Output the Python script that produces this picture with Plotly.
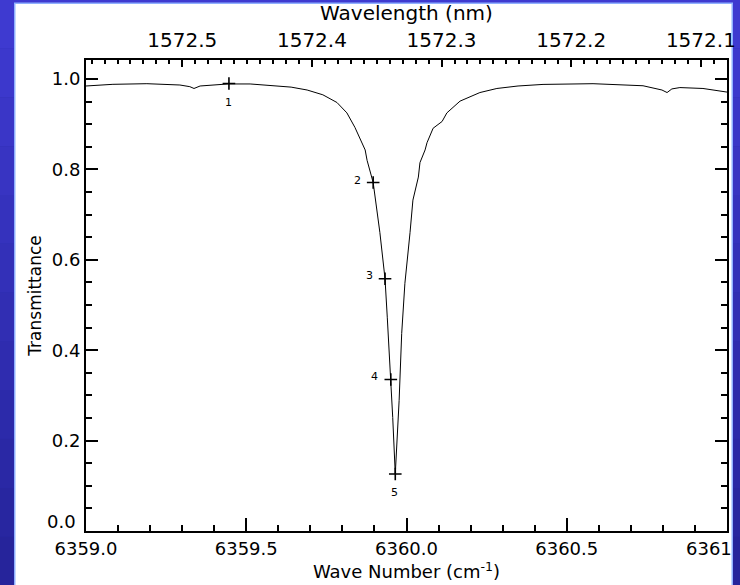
import plotly.graph_objects as go

# Spectrum
wavenumber = [6359.000, 6359.084, 6359.190, 6359.293, 6359.324, 6359.337, 6359.356, 6359.396,
              6359.443, 6359.512, 6359.583, 6359.640, 6359.690, 6359.739, 6359.783, 6359.814,
              6359.839, 6359.861, 6359.871, 6359.877, 6359.896, 6359.917, 6359.933, 6359.940,
              6359.951, 6359.957, 6359.965, 6359.969, 6359.977, 6359.985, 6359.995, 6360.011,
              6360.020, 6360.037, 6360.042, 6360.058, 6360.064, 6360.083, 6360.111, 6360.126,
              6360.167, 6360.229, 6360.282, 6360.348, 6360.426, 6360.582, 6360.738, 6360.797,
              6360.813, 6360.828, 6360.853, 6360.925, 6361.000]
transmittance = [0.9845, 0.9882, 0.9896, 0.9867, 0.9830, 0.9790, 0.9845, 0.9867,
                 0.9890, 0.9890, 0.9860, 0.9820, 0.9756, 0.9650, 0.9480, 0.9250,
                 0.8930, 0.8590, 0.8430, 0.8200, 0.7710, 0.6600, 0.5580, 0.4730,
                 0.3350, 0.2510, 0.1260, 0.1780, 0.2890, 0.4370, 0.5480, 0.6600,
                 0.7320, 0.7830, 0.8150, 0.8430, 0.8590, 0.8910, 0.9060, 0.9250,
                 0.9510, 0.9700, 0.9790, 0.9845, 0.9880, 0.9896, 0.9850, 0.9756,
                 0.9700, 0.9780, 0.9810, 0.9790, 0.9710]

point_wn = [6359.446, 6359.896, 6359.933, 6359.951, 6359.965]
point_t = [0.990, 0.771, 0.558, 0.335, 0.126]
point_labels = ["1", "2", "3", "4", "5"]
label_wn = [6359.446, 6359.846, 6359.886, 6359.899, 6359.964]
label_t = [0.949, 0.776, 0.565, 0.341, 0.086]

bottom_ticks = [6359.0, 6359.5, 6360.0, 6360.5]
bottom_ticktext = ["6359.0", "6359.5", "6360.0", "6360.5"]
last_bottom_label = "6361"
y_ticks = [0.2, 0.4, 0.6, 0.8, 1.0]
y_ticktext = ["0.2", "0.4", "0.6", "0.8", "1.0"]
y_zero_label = "0.0"
top_wavelengths = [1572.5, 1572.4, 1572.3, 1572.2, 1572.1]
top_minor_wavelengths = [round(1572.08 + 0.01 * i, 2) for i in range(50)]

top_tickvals = [1e7 / w for w in top_wavelengths]
top_ticktext = [f"{w:.1f}" for w in top_wavelengths]
top_minor_vals = [1e7 / w for w in top_minor_wavelengths
                  if 6359.0 <= 1e7 / w <= 6361.0 and round(w, 2) not in top_wavelengths]

W, H = 740, 585
L, R, T, B = 86, 13, 60, 54
pw, ph = W - L - R, H - T - B

def px(x):
    return (x - L) / pw

def py(y):
    return (H - B - y) / ph

fig = go.Figure()
fig.add_trace(go.Scatter(x=wavenumber, y=transmittance, mode="lines",
                         line=dict(color="black", width=1), showlegend=False,
                         hoverinfo="skip"))
fig.add_trace(go.Scatter(x=point_wn, y=point_t, mode="markers",
                         marker=dict(symbol="cross-thin", size=9,
                                     line=dict(color="black", width=1.6)),
                         showlegend=False))
# invisible trace for top axis
fig.add_trace(go.Scatter(x=[6359.0, 6361.0], y=[None, None], xaxis="x2",
                         showlegend=False, hoverinfo="skip"))

for xv, yv, t in zip(label_wn, label_t, point_labels):
    fig.add_annotation(x=xv, y=yv, text=t, showarrow=False,
                       font=dict(family="DejaVu Sans", size=11, color="black"))

tickfont = dict(family="DejaVu Sans", size=18, color="black")

# last bottom label, cut by the slide border
fig.add_annotation(x=px(734), y=py(548), xref="paper", yref="paper", text=last_bottom_label,
                   showarrow=False, xanchor="right", yanchor="middle", font=tickfont)
# 0.0 label sits a little above the axis corner
fig.add_annotation(x=px(78), y=py(521), xref="paper", yref="paper", text=y_zero_label,
                   showarrow=False, xanchor="right", yanchor="middle", font=tickfont)

# slide background: blue with a white panel
shapes = []
n = 12
for i in range(n):
    c0 = (62 - int(27 * i / n), 58 - int(25 * i / n), 208 - int(58 * i / n))
    shapes.append(dict(type="rect", xref="paper", yref="paper",
                       x0=px(0), x1=px(740), y0=py(585 * (i + 1) / n), y1=py(585 * i / n),
                       fillcolor=f"rgb{c0}", line=dict(width=0), layer="below"))
shapes.append(dict(type="rect", xref="paper", yref="paper",
                   x0=px(14), x1=px(733), y0=py(590), y1=py(2.5),
                   fillcolor="#8fb0ff", line=dict(width=0), layer="below"))
shapes.append(dict(type="rect", xref="paper", yref="paper",
                   x0=px(15.5), x1=px(731.5), y0=py(590), y1=py(4),
                   fillcolor="white", line=dict(width=0), layer="below"))
fig.update_layout(shapes=shapes)

fig.update_layout(
    width=W, height=H,
    margin=dict(l=L, r=R, t=T, b=B, pad=0, autoexpand=False),
    paper_bgcolor="rgb(45,45,175)",
    plot_bgcolor="white",
    xaxis=dict(range=[6359.0, 6361.0], tickmode="array", tickvals=bottom_ticks,
               ticktext=bottom_ticktext, ticks="inside", ticklen=13, tickwidth=1.5,
               tickcolor="black", showline=True, linecolor="black", linewidth=2,
               showgrid=False, zeroline=False, mirror=False, tickfont=tickfont,
               automargin=False,
               minor=dict(dtick=0.1, tick0=6359.0, ticks="inside", ticklen=6,
                          tickwidth=1.5, tickcolor="black", showgrid=False),
               title=dict(text="Wave Number (cm<sup>-1</sup>)",
                          font=dict(family="DejaVu Sans", size=18, color="black"),
                          standoff=7)),
    xaxis2=dict(range=[6359.0, 6361.0], overlaying="x", side="top", anchor="y",
                tickmode="array", tickvals=top_tickvals, ticktext=top_ticktext,
                ticks="inside", ticklen=7, tickwidth=1.5, tickcolor="black",
                showline=True, linecolor="black", linewidth=2, showgrid=False,
                zeroline=False, ticklabelstandoff=3, automargin=False,
                tickfont=dict(family="DejaVu Sans", size=20, color="black"),
                minor=dict(tickmode="array", tickvals=top_minor_vals, ticks="inside",
                           ticklen=4, tickwidth=1.5, tickcolor="black", showgrid=False),
                title=dict(text="Wavelength (nm)",
                           font=dict(family="DejaVu Sans", size=20, color="black"),
                           standoff=2)),
    yaxis=dict(range=[0, 1.042], tickmode="array", tickvals=y_ticks, ticktext=y_ticktext,
               ticks="inside", ticklen=12, tickwidth=1.5, tickcolor="black",
               showline=True, linecolor="black", linewidth=2, mirror="ticks",
               showgrid=False, zeroline=False, tickfont=tickfont, automargin=False,
               minor=dict(dtick=0.05, tick0=0, ticks="inside", ticklen=6, tickwidth=1.5,
                          tickcolor="black", showgrid=False),
               title=dict(text="Transmittance", font=dict(family="DejaVu Sans", size=17,
                                                          color="black"), standoff=6)),
)

fig.write_html("out.html")
